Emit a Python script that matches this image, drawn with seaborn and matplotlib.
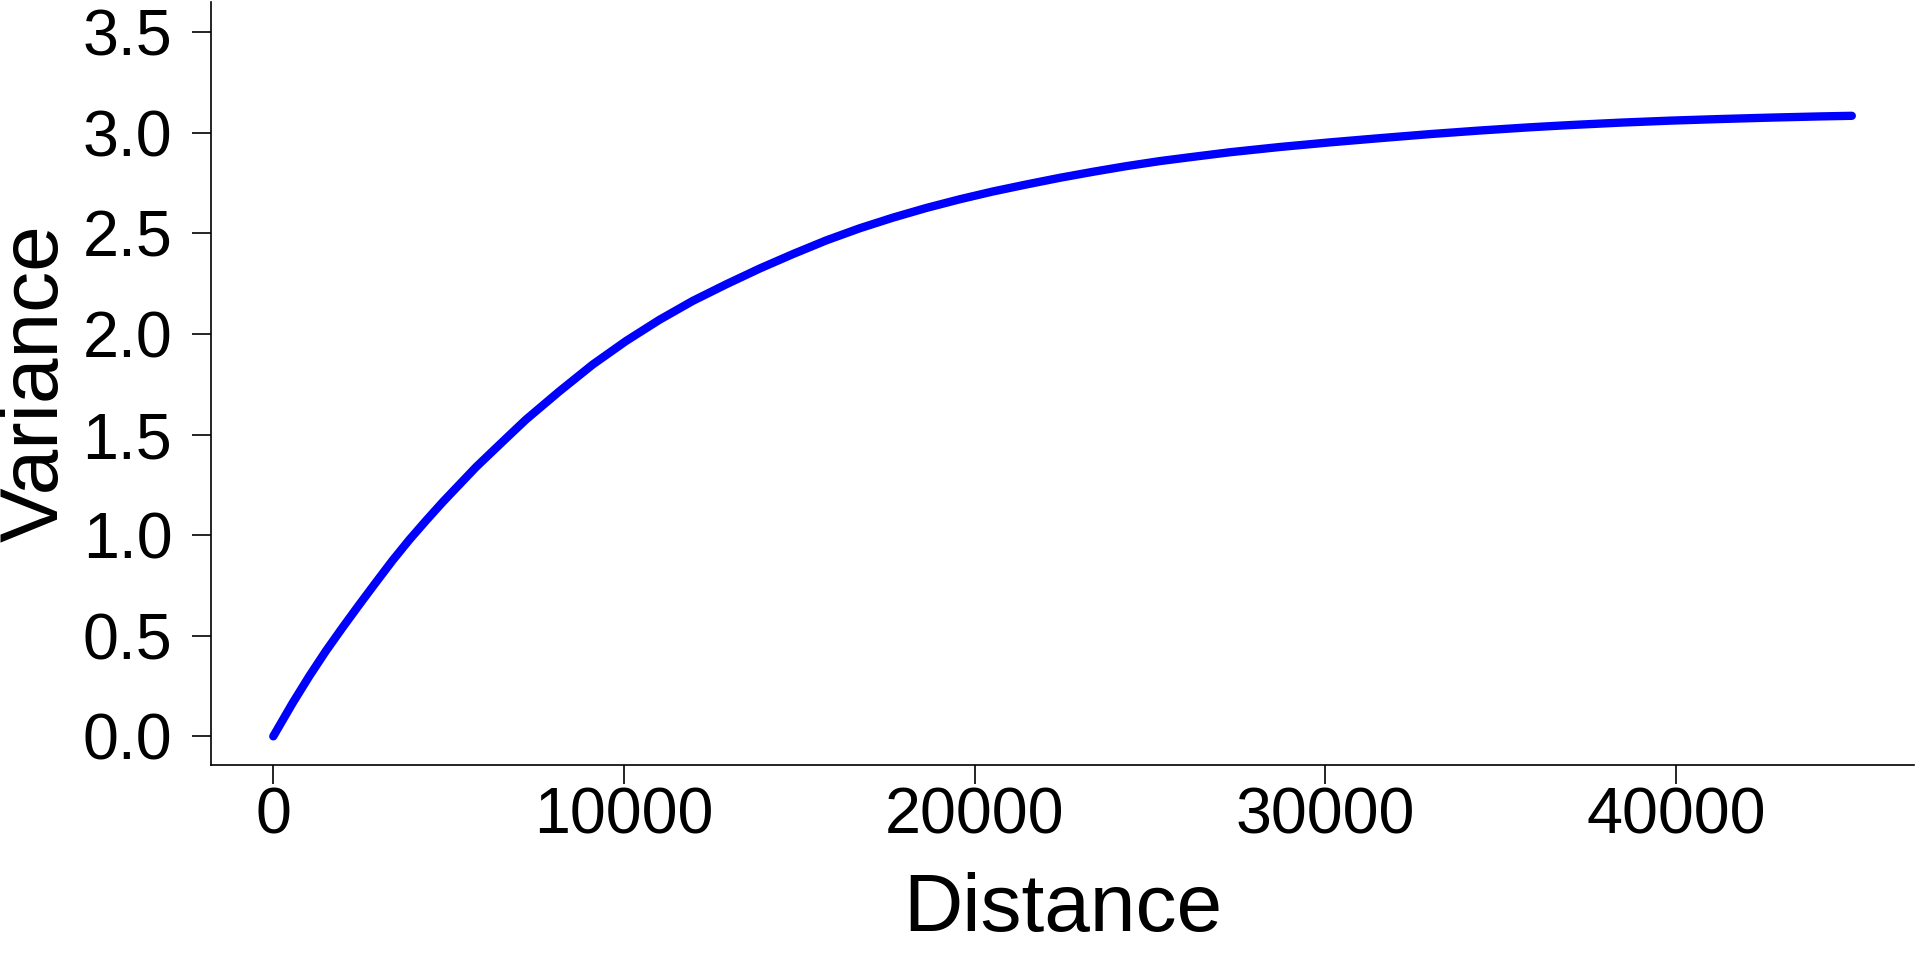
import matplotlib
matplotlib.use("Agg")
import matplotlib.pyplot as plt
import seaborn as sns
import pandas as pd

distance = [0, 550, 1030, 1500, 1980, 2450, 2930, 3400, 3880, 4360, 4830, 5310, 5780,
            6260, 6730, 7210, 8160, 9110, 10060, 11010, 11960, 12920, 13870, 14820,
            15770, 16720, 17670, 18620, 19570, 20520, 21480, 22430, 23380, 24330,
            25280, 26130, 27280, 28700, 30130, 31560, 32980, 34410, 35840, 36980,
            38400, 39830, 41260, 42680, 44110, 45010]
variance = [0.0, 0.165, 0.300, 0.424, 0.542, 0.654, 0.766, 0.874, 0.977, 1.073, 1.164,
            1.252, 1.338, 1.418, 1.496, 1.575, 1.715, 1.848, 1.965, 2.070, 2.164, 2.247,
            2.325, 2.397, 2.465, 2.525, 2.578, 2.626, 2.669, 2.708, 2.743, 2.776, 2.806,
            2.834, 2.859, 2.878, 2.903, 2.929, 2.952, 2.973, 2.993, 3.011, 3.027, 3.038,
            3.050, 3.060, 3.068, 3.075, 3.081, 3.084]
x_ticks = [0, 10000, 20000, 30000, 40000]
y_ticks = [0.0, 0.5, 1.0, 1.5, 2.0, 2.5, 3.0, 3.5]
y_tick_labels = ["0.0", "0.5", "1.0", "1.5", "2.0", "2.5", "3.0", "3.5"]

df = pd.DataFrame({"Distance": distance, "Variance": variance})

sns.set_style("ticks")
plt.rcParams["font.family"] = ["Liberation Sans", "DejaVu Sans"]

fig, ax = plt.subplots(figsize=(19.2, 9.6), dpi=100)
fig.subplots_adjust(left=0.110, right=0.997, bottom=0.203, top=0.998)

sns.lineplot(data=df, x="Distance", y="Variance", ax=ax, color="#0000ff",
             linewidth=6, solid_capstyle="round", solid_joinstyle="round")

ax.set_xlim(-1770, 46790)
ax.set_ylim(-0.143, 3.65)
ax.set_xticks(x_ticks)
ax.set_xticklabels([str(t) for t in x_ticks])
ax.set_yticks(y_ticks)
ax.set_yticklabels(y_tick_labels)

for s in ["top", "right"]:
    ax.spines[s].set_visible(False)
for s in ["left", "bottom"]:
    ax.spines[s].set_linewidth(1.2)
    ax.spines[s].set_color("black")

ax.tick_params(axis="both", direction="out", length=14, width=1.2, color="black",
               labelsize=46.5, labelcolor="black")
ax.tick_params(axis="y", pad=14)
ax.tick_params(axis="x", pad=1.5)

ax.set_xlabel("Distance", fontsize=59, color="black")
ax.set_ylabel("Variance", fontsize=59, color="black")
ax.xaxis.set_label_coords(0.5, -0.140)
ax.yaxis.set_label_coords(-0.080, 0.5)

fig.savefig("out.png", dpi=100, facecolor="white")
